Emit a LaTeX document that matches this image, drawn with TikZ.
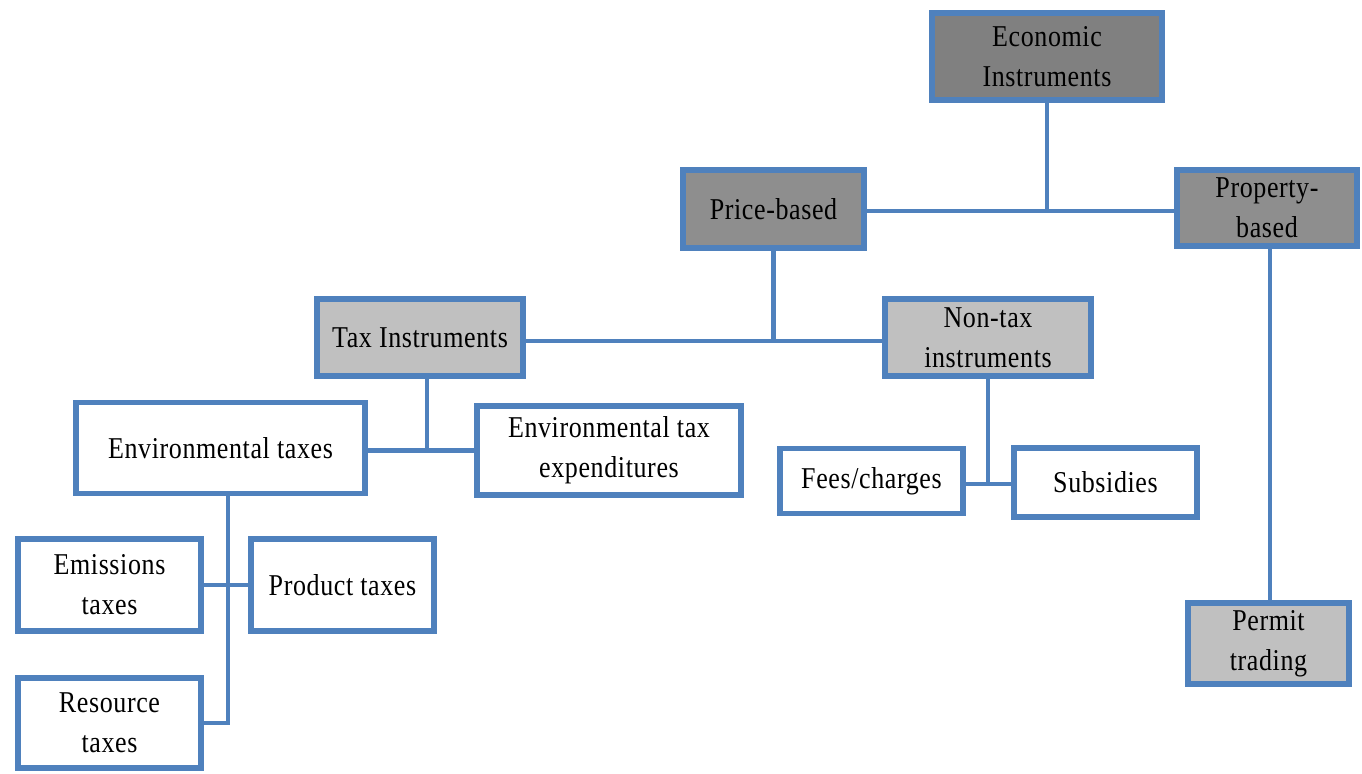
\documentclass[tikz,border=0pt]{standalone}
\usepackage{fontspec}
\setmainfont[FakeStretch=0.86,LetterSpace=2]{Liberation Serif}
\usepackage{tikz}
\definecolor{boxblue}{HTML}{4F81BD}
\definecolor{darkfill}{HTML}{808080}
\definecolor{midfill}{HTML}{8E8E8E}
\definecolor{lightfill}{HTML}{C0C0C0}

\begin{document}
\begin{tikzpicture}[x=0.01cm,y=-0.01cm,
	box/.style={draw=boxblue,line width=1.6pt,align=center,inner sep=0pt,
		font=\fontsize{8.6}{11.4}\selectfont},
	topbox/.style={box,fill=darkfill},
	midbox/.style={box,fill=midfill},
	subbox/.style={box,fill=lightfill},
	leafbox/.style={box,fill=white},
	link/.style={draw=boxblue,line width=1.2pt}]
\useasboundingbox (0,0) rectangle (1362,774);

\node[topbox,minimum width=2.30cm,minimum height=0.87cm] (econ) at (1047,56.5) {Economic\\Instruments};
\node[midbox,minimum width=1.81cm,minimum height=0.78cm] (price) at (773.5,209) {Price-based};
\node[midbox,minimum width=1.80cm,minimum height=0.76cm] (prop) at (1267,208) {Property-\\based};

\node[subbox,minimum width=2.06cm,minimum height=0.77cm] (tax) at (420,337.5) {Tax Instruments};
\node[subbox,minimum width=2.06cm,minimum height=0.77cm] (nontax) at (988,337.5) {Non-tax\\instruments};
\node[subbox,minimum width=1.61cm,minimum height=0.81cm] (permit) at (1268.5,643.5) {Permit\\trading};

\node[leafbox,minimum width=2.89cm,minimum height=0.91cm] (envtax) at (220.5,448) {Environmental taxes};
\node[leafbox,minimum width=2.64cm,minimum height=0.89cm] (envexp) at (609,450.5) {Environmental tax\\expenditures};
\node[leafbox,minimum width=1.83cm,minimum height=0.65cm] (fees) at (871.5,481) {Fees/charges};
\node[leafbox,minimum width=1.83cm,minimum height=0.69cm] (subs) at (1105.5,482.5) {Subsidies};
\node[leafbox,minimum width=1.83cm,minimum height=0.92cm] (emis) at (109.5,585) {Emissions\\taxes};
\node[leafbox,minimum width=1.83cm,minimum height=0.92cm] (prod) at (342.5,585) {Product taxes};
\node[leafbox,minimum width=1.83cm,minimum height=0.90cm] (res) at (109.5,723) {Resource\\taxes};

\coordinate (taxdrop) at ([xshift=0.07cm]tax.south);
\coordinate (envdrop) at ([xshift=0.075cm]envtax.south);
\coordinate (propdrop) at ([xshift=0.03cm]prop.south);
\coordinate (pricejoin) at ([yshift=-0.02cm]price.east);
\coordinate (taxjoin) at ([yshift=-0.035cm]tax.east);
\coordinate (feesjoin) at ([yshift=-0.03cm]fees.east);

\begin{scope}[link]
	\draw (econ.south) -- (econ.south |- pricejoin);
	\draw (pricejoin) -- (pricejoin -| prop.west);
	\draw (price.south) -- (price.south |- taxjoin);
	\draw (taxjoin) -- (taxjoin -| nontax.west);
	\draw (propdrop) -- (propdrop |- permit.north);
	\draw (taxdrop) -- (taxdrop |- envexp.west);
	\draw (envtax.east |- envexp.west) -- (envexp.west);
	\draw (nontax.south) -- (nontax.south |- feesjoin);
	\draw (feesjoin) -- (feesjoin -| subs.west);
	\draw (envdrop) |- (res.east);
	\draw (emis.east) -- (prod.west);
\end{scope}
\end{tikzpicture}
\end{document}
